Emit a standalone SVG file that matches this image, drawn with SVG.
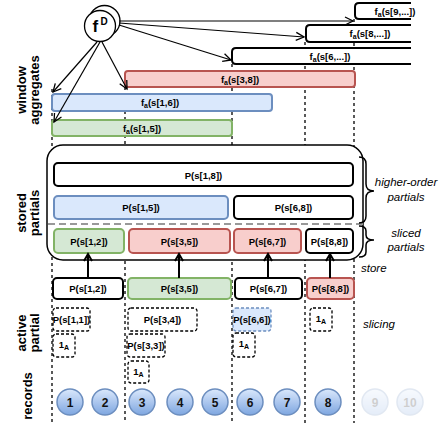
<svg xmlns="http://www.w3.org/2000/svg" width="439" height="423" viewBox="0 0 439 423">
<defs>
<linearGradient id="rec" x1="0" y1="0" x2="0" y2="1"><stop offset="0" stop-color="#dae8fc"/><stop offset="1" stop-color="#7ea6e0"/></linearGradient>
<marker id="ah" markerUnits="userSpaceOnUse" markerWidth="12" markerHeight="12" refX="9" refY="5" orient="auto"><path d="M1,1 L9,5 L1,9" fill="none" stroke="#000" stroke-width="1.3"/></marker>
<marker id="ahb" markerUnits="userSpaceOnUse" markerWidth="12" markerHeight="12" refX="9" refY="5" orient="auto"><path d="M2,1 L9,5 L2,9" fill="none" stroke="#000" stroke-width="2"/></marker>
</defs>
<style>
text{font-family:"Liberation Sans",Arial,Helvetica,sans-serif;fill:#000}
.lbl{font-size:13px;font-weight:bold;text-anchor:middle}
.bt{font-size:9.5px;font-weight:bold;text-anchor:middle}
.it{font-size:11.5px;font-style:italic}
.vl{stroke:#000;stroke-width:1.3;stroke-dasharray:3 3;fill:none}
.bk{fill:#fff;stroke:#000;stroke-width:2}
.gr{fill:#d5e8d4;stroke:#82b366;stroke-width:2}
.rd{fill:#f8cecc;stroke:#b85450;stroke-width:2}
.bl{fill:#dae8fc;stroke:#6c8ebf;stroke-width:2}
.da{fill:#fff;stroke:#000;stroke-width:1.3;stroke-dasharray:3 2}
.dab{fill:#dae8fc;stroke:#6c8ebf;stroke-width:1.3;stroke-dasharray:3 2}
.con{stroke:#000;stroke-width:1.2;fill:none;marker-end:url(#ah)}
.up{stroke:#000;stroke-width:2;fill:none;marker-end:url(#ahb)}
.rc{fill:url(#rec);stroke:#6c8ebf;stroke-width:1.5}
.rn{font-size:12px;font-weight:bold;text-anchor:middle;fill:#111}
.sub{font-size:7px}
</style>

<g id="labels">
<text class="lbl" transform="translate(26,90) rotate(-90)">window</text>
<text class="lbl" transform="translate(39,90) rotate(-90)">aggregates</text>
<text class="lbl" transform="translate(26,213) rotate(-90)">stored</text>
<text class="lbl" transform="translate(39,213) rotate(-90)">partials</text>
<text class="lbl" transform="translate(26,333) rotate(-90)">active</text>
<text class="lbl" transform="translate(39,333) rotate(-90)">partial</text>
<text class="lbl" transform="translate(32,396) rotate(-90)">records</text>
</g>

<g id="slice-lines">
<line class="vl" x1="52" y1="89" x2="52" y2="423"/>
<line class="vl" x1="125" y1="87" x2="125" y2="423"/>
<line class="vl" x1="232" y1="64" x2="232" y2="423"/>
<line class="vl" x1="305" y1="42" x2="305" y2="423"/>
<line class="vl" x1="354" y1="19" x2="354" y2="423"/>
</g>

<g id="agg-9">
<path class="bk" d="M411,3 H359 Q355,3 355,7 V15 Q355,19 359,19 H411"/>
<text class="bt" x="395" y="14.5">f<tspan class="sub" dy="2">a</tspan><tspan dy="-2">(s[9,...])</tspan></text>
</g>
<g id="agg-8">
<path class="bk" d="M411,25 H310 Q306,25 306,29 V38 Q306,42 310,42 H411"/>
<text class="bt" x="370" y="37">f<tspan class="sub" dy="2">a</tspan><tspan dy="-2">(s[8,...])</tspan></text>
</g>
<g id="agg-6">
<path class="bk" d="M411,48 H236 Q232,48 232,52 V60 Q232,64 236,64 H411"/>
<text class="bt" x="330" y="59.5">f<tspan class="sub" dy="2">a</tspan><tspan dy="-2">(s[6,...])</tspan></text>
</g>
<g id="agg-3-8">
<rect class="rd" x="125" y="71" width="230" height="16" rx="3"/>
<text class="bt" x="240" y="82.5">f<tspan class="sub" dy="2">a</tspan><tspan dy="-2">(s[3,8])</tspan></text>
</g>
<g id="agg-1-6">
<rect class="bl" x="52" y="94" width="220" height="17" rx="3"/>
<text class="bt" x="160" y="106">f<tspan class="sub" dy="2">a</tspan><tspan dy="-2">(s[1,6])</tspan></text>
</g>
<g id="agg-1-5">
<rect class="gr" x="52" y="120" width="180" height="16" rx="3"/>
<text class="bt" x="142" y="131.5">f<tspan class="sub" dy="2">a</tspan><tspan dy="-2">(s[1,5])</tspan></text>
</g>

<g id="fD">
<circle cx="104.5" cy="21" r="15.5" fill="#fff" stroke="#000" stroke-width="1.3"/>
<circle cx="100" cy="26" r="15.5" fill="#fff" stroke="#000" stroke-width="1.3"/>
<text x="92.5" y="32" style="font-size:17px;font-weight:bold">f</text>
<text x="100.5" y="24.5" style="font-size:10px;font-weight:bold">D</text>
</g>

<g id="store-box">
<rect x="47" y="145" width="316" height="115" rx="16" fill="#fff" stroke="#000" stroke-width="1.5"/>
<line x1="48" y1="224" x2="363" y2="224" stroke="#999" stroke-width="2" stroke-dasharray="7 4"/>
</g>
<g id="p-1-8"><rect class="bk" x="54" y="163" width="299" height="23" rx="4"/><text class="bt" x="203.5" y="178.5">P(s[1,8])</text></g>
<g id="p-1-5"><rect class="bl" x="54" y="196" width="174" height="23" rx="4"/><text class="bt" x="141" y="211">P(s[1,5])</text></g>
<g id="p-6-8"><rect class="bk" x="234" y="196" width="119" height="23" rx="4"/><text class="bt" x="293.5" y="211">P(s[6,8])</text></g>
<g id="s-1-2"><rect class="gr" x="54" y="229" width="70" height="24" rx="4"/><text class="bt" x="89" y="244.5">P(s[1,2])</text></g>
<g id="s-3-5"><rect class="rd" x="129" y="229" width="101" height="24" rx="4"/><text class="bt" x="179.5" y="244.5">P(s[3,5])</text></g>
<g id="s-6-7"><rect class="rd" x="234" y="229" width="67" height="24" rx="4"/><text class="bt" x="267.5" y="244.5">P(s[6,7])</text></g>
<g id="s-8-8"><rect class="bk" x="306" y="229" width="47" height="24" rx="4"/><text class="bt" x="329.5" y="244.5">P(s[8,8])</text></g>

<g id="braces" fill="none" stroke="#000" stroke-width="1.5">
<path d="M359,157 Q366,157 366,164 V184 Q366,191 374,191 Q366,191 366,198 V216 Q366,223 359,223"/>
<path d="M359,226 Q366,226 366,231 V235 Q366,240 374,240 Q366,240 366,245 V252 Q366,257 359,257"/>
</g>
<g id="side-labels">
<text class="it" x="406" y="186" text-anchor="middle">higher-order</text>
<text class="it" x="406" y="201" text-anchor="middle">partials</text>
<text class="it" x="406" y="237" text-anchor="middle">sliced</text>
<text class="it" x="406" y="251" text-anchor="middle">partials</text>
<text class="it" x="361" y="272">store</text>
<text class="it" x="363" y="328">slicing</text>
</g>

<g id="t-1-2"><rect class="bk" x="53" y="278" width="70" height="21" rx="4"/><text class="bt" x="88" y="292">P(s[1,2])</text></g>
<g id="t-3-5"><rect class="gr" x="128" y="278" width="103" height="21" rx="4"/><text class="bt" x="179.5" y="292">P(s[3,5])</text></g>
<g id="t-6-7"><rect class="bk" x="235" y="278" width="67" height="21" rx="4"/><text class="bt" x="268.5" y="292">P(s[6,7])</text></g>
<g id="t-8-8"><rect class="rd" x="307" y="278" width="47" height="21" rx="4"/><text class="bt" x="330.5" y="292">P(s[8,8])</text></g>

<g id="a-1-1"><rect class="da" x="53" y="308" width="37" height="23" rx="3"/><text class="bt" x="71.5" y="323">P(s[1,1])</text></g>
<g id="a-1A-1"><rect class="da" x="53" y="334" width="22" height="23" rx="3"/><text class="bt" x="64" y="348">1<tspan class="sub" dy="2">A</tspan></text></g>
<g id="a-3-4"><rect class="da" x="128" y="308" width="69" height="23" rx="3"/><text class="bt" x="162.5" y="323">P(s[3,4])</text></g>
<g id="a-3-3"><rect class="da" x="127" y="334" width="38" height="23" rx="3"/><text class="bt" x="146" y="349">P(s[3,3])</text></g>
<g id="a-1A-3"><rect class="da" x="128" y="361" width="21" height="22" rx="3"/><text class="bt" x="138.5" y="375">1<tspan class="sub" dy="2">A</tspan></text></g>
<g id="a-6-6"><rect class="dab" x="233" y="308" width="38" height="23" rx="3"/><text class="bt" x="252" y="323">P(s[6,6])</text></g>
<g id="a-1A-6"><rect class="da" x="233" y="333" width="22" height="24" rx="3"/><text class="bt" x="244" y="347">1<tspan class="sub" dy="2">A</tspan></text></g>
<g id="a-1A-8"><rect class="da" x="310" y="308" width="22" height="23" rx="3"/><text class="bt" x="321" y="322">1<tspan class="sub" dy="2">A</tspan></text></g>

<g id="records">
<g id="r1"><circle class="rc" cx="70" cy="402" r="13"/><text class="rn" x="70" y="406.5">1</text></g>
<g id="r2"><circle class="rc" cx="105" cy="402" r="13"/><text class="rn" x="105" y="406.5">2</text></g>
<g id="r3"><circle class="rc" cx="142" cy="402" r="13"/><text class="rn" x="142" y="406.5">3</text></g>
<g id="r4"><circle class="rc" cx="180" cy="402" r="13"/><text class="rn" x="180" y="406.5">4</text></g>
<g id="r5"><circle class="rc" cx="215" cy="402" r="13"/><text class="rn" x="215" y="406.5">5</text></g>
<g id="r6"><circle class="rc" cx="250" cy="402" r="13"/><text class="rn" x="250" y="406.5">6</text></g>
<g id="r7"><circle class="rc" cx="287" cy="402" r="13"/><text class="rn" x="287" y="406.5">7</text></g>
<g id="r8"><circle class="rc" cx="328" cy="402" r="13"/><text class="rn" x="328" y="406.5">8</text></g>
<g id="r9" opacity="0.2"><circle class="rc" cx="375" cy="402" r="13"/><text class="rn" x="375" y="406.5">9</text></g>
<g id="r10" opacity="0.2"><circle class="rc" cx="410" cy="402" r="13"/><text class="rn" x="410" y="406.5">10</text></g>
</g>

<g id="connectors">
<line class="con" x1="97" y1="42" x2="53" y2="92"/>
<line class="con" x1="100" y1="42" x2="54" y2="122"/>
<line class="con" x1="102" y1="42" x2="127" y2="89"/>
<line class="con" x1="119" y1="21" x2="353" y2="21"/>
<line class="con" x1="119" y1="23" x2="304" y2="37"/>
<line class="con" x1="119" y1="25" x2="231" y2="60"/>
<line class="up" x1="88" y1="278" x2="88" y2="254"/>
<line class="up" x1="179" y1="278" x2="179" y2="254"/>
<line class="up" x1="268" y1="278" x2="268" y2="254"/>
<line class="up" x1="330" y1="278" x2="330" y2="254"/>
</g>
</svg>
